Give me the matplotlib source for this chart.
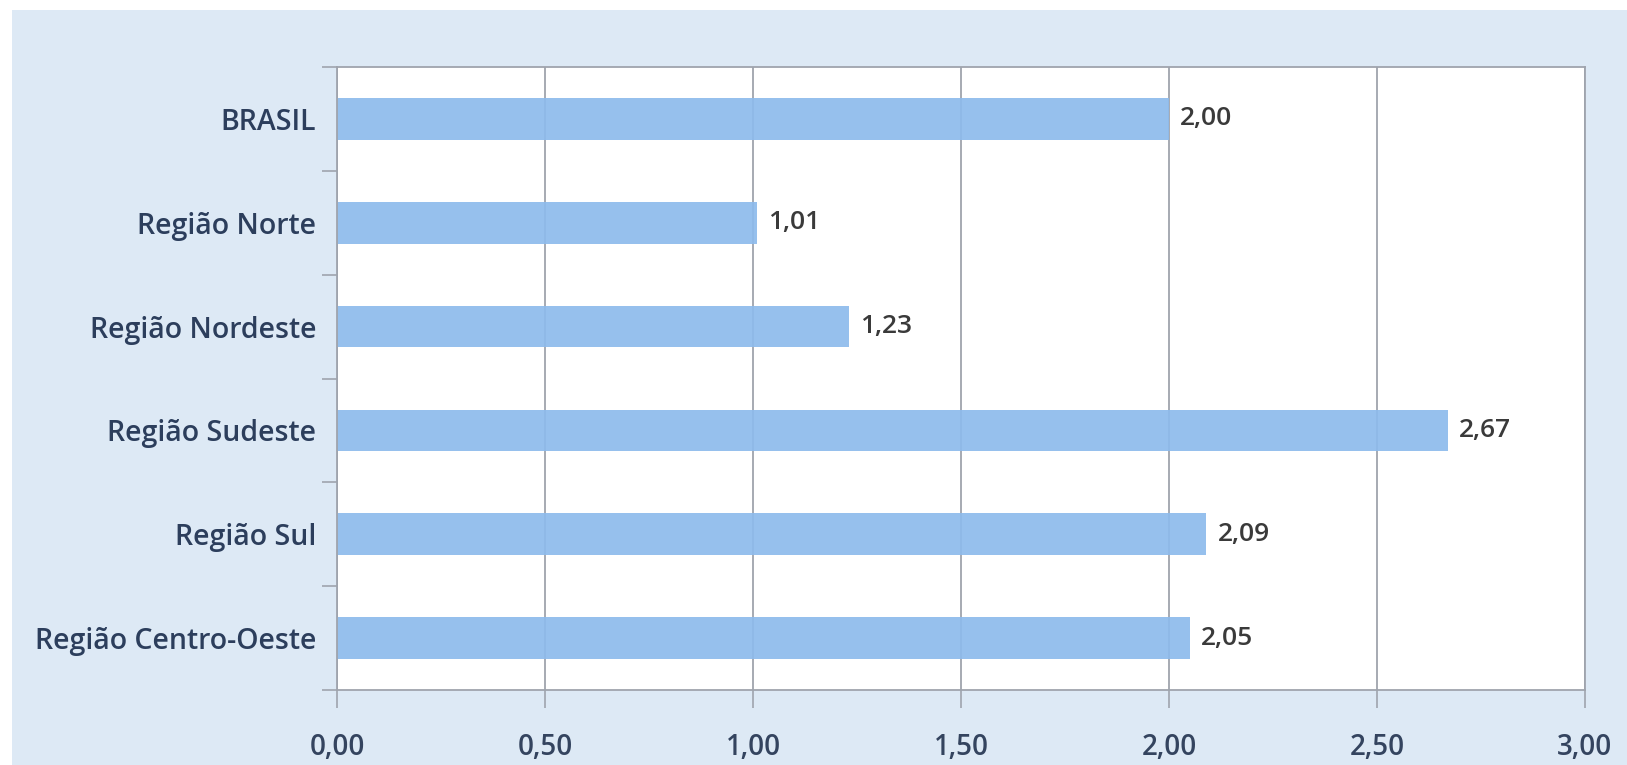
"""Horizontal bar chart of regional values (Brasil and regions)."""

import matplotlib

matplotlib.use("Agg")
import matplotlib.pyplot as plt
from matplotlib.patches import Rectangle

categories = [
    "BRASIL",
    "Região Norte",
    "Região Nordeste",
    "Região Sudeste",
    "Região Sul",
    "Região Centro-Oeste",
]
values = [2.00, 1.01, 1.23, 2.67, 2.09, 2.05]
x_ticks = [0.0, 0.5, 1.0, 1.5, 2.0, 2.5, 3.0]


def fmt(v):
    return f"{v:.2f}".replace(".", ",")


plt.rcParams["font.family"] = ["Open Sans", "DejaVu Sans"]
plt.rcParams["font.weight"] = 600

fig = plt.figure(figsize=(16.27, 7.65), dpi=100, facecolor="white")
# light blue panel behind the chart
fig.patches.append(
    Rectangle((12 / 1627, 0), 1, 1 - 10 / 765, transform=fig.transFigure,
              facecolor="#dde9f5", edgecolor="none", zorder=-10)
)

ax = fig.add_axes([337 / 1627, 75 / 765, 1248 / 1627, 623 / 765])
ax.set_zorder(5)
ax.set_facecolor("white")

positions = list(range(len(categories)))
ax.barh(positions, values, height=0.4, color="#8dbbec", alpha=0.92,
        edgecolor="none", zorder=2)
for pos, val in zip(positions, values):
    ax.text(val + 0.027, pos, fmt(val), va="center", ha="left",
            fontsize=19, color="#3a3a3a", zorder=3)

ax.set_xlim(0, 3.0)
ax.set_ylim(len(categories) - 0.5, -0.5)
ax.set_xticks(x_ticks)
ax.set_xticklabels([fmt(t) for t in x_ticks], fontsize=20, color="#34445f")
ax.set_yticks(positions)
ax.set_yticklabels(categories, fontsize=20.5, color="#2c3e5c")
ax.set_yticks([p - 0.5 for p in positions] + [len(categories) - 0.5], minor=True)
ax.tick_params(axis="y", which="major", length=0, pad=15)
ax.tick_params(axis="y", which="minor", length=11, color="#9fa4ad", width=1.2)
ax.tick_params(axis="x", length=13, color="#9fa4ad", width=1.2, pad=18)

ax.grid(axis="x", color="#9fa4ad", linewidth=1.3, zorder=1)
ax.set_axisbelow(True)
for spine in ax.spines.values():
    spine.set_color("#9fa4ad")
    spine.set_linewidth(1.3)

fig.savefig("out.png", dpi=100, facecolor=fig.get_facecolor())
